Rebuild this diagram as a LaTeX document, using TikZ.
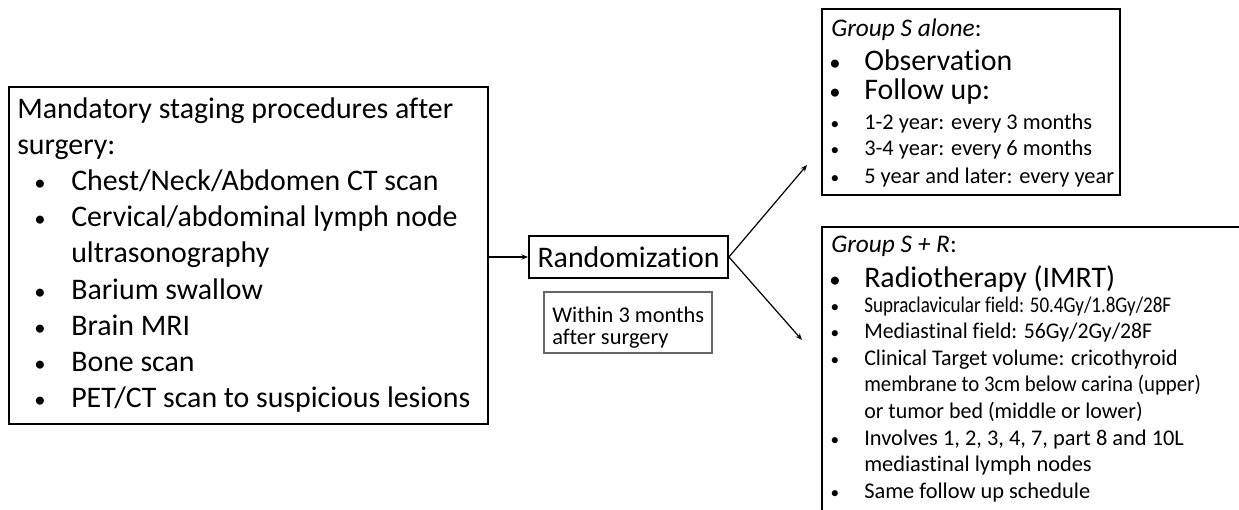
\documentclass[tikz,border=0pt]{standalone}
\usepackage{fontspec}
\setmainfont{Carlito}[Ligatures=NoCommon]
\usetikzlibrary{arrows.meta}
\begin{document}
\begin{tikzpicture}[x=0.75pt,y=-0.75pt,
  frame/.style={draw=black, line width=1.4pt, inner sep=0pt},
  thinframe/.style={draw=black!60, line width=0.8pt, inner sep=0pt},
  big/.style={font=\fontsize{22.4}{26}\selectfont},
  small/.style={font=\fontsize{16.8}{20}\selectfont},
  head/.style={font=\fontsize{19}{22}\selectfont},
  txt/.style={anchor=base west, inner sep=0pt},
  bigdot/.style={anchor=base, inner sep=0pt, font=\fontsize{17}{19}\selectfont},
  smalldot/.style={anchor=base, inner sep=0pt, font=\fontsize{13}{15}\selectfont},
  arrow/.style={line width=0.9pt, -{Stealth[length=5pt,width=4pt]}}
]
\clip (0,0) rectangle (1239,510);
\useasboundingbox (0,0) rectangle (1239,510);

% staging procedures box
\node[frame, minimum width=359.25pt, minimum height=252.75pt] (stage) at (248.5,255.5) {};
\node[txt, big] (st1) at (17,118) {Mandatory staging procedures after};
\node[txt, big] (st2) at (17,154.2) {surgery:};
\foreach \y/\t [count=\i] in {190.4/{Chest/Neck/Abdomen CT scan},
    226.6/{Cervical/abdominal lymph node},
    299/{Barium swallow}, 335.2/{Brain MRI}, 371.4/{Bone scan},
    407.6/{PET/CT scan to suspicious lesions}}{
  \node[bigdot] (sb\i) at (40,\y) {•};
  \node[txt, big] (si\i) at (71,\y) {\t};
}
\node[txt, big] (sc) at (71,262.8) {ultrasonography};

% randomization
\node[frame, big, minimum width=149.25pt, minimum height=31.5pt] (rand) at (628.5,257) {Randomization};
\node[thinframe, minimum width=126pt, minimum height=45.75pt] (when) at (628,322.5) {};
\node[txt, small] (w1) at (552,322) {Within 3 months};
\node[txt, small] (w2) at (552,344) {after surgery};

% group S alone
\node[frame, minimum width=223.5pt, minimum height=139.5pt] (gs) at (971,102) {};
\node[txt, head] (gsh) at (831,37) {\textit{Group S alone}:};
\foreach \y/\t [count=\i] in {70/Observation, 99/Follow up:}{
  \node[bigdot] (ga\i) at (835,\y) {•};
  \node[txt, big] (gt\i) at (864,\y) {\t};
}
\foreach \y/\t [count=\i] in {129/{1-2 year: every 3 months},
    156/{3-4 year: every 6 months}, 183/{5 year and later: every year}}{
  \node[smalldot] (gb\i) at (835,\y) {•};
  \node[txt, small] (gu\i) at (864,\y) {\t};
}

% group S + R
\node[frame, minimum width=328.5pt, minimum height=234.75pt] (gr) at (1041,383.5) {};
\node[txt, head] (grh) at (831,252) {\textit{Group S + R}:};
\node[bigdot] (ra) at (835,287) {•};
\node[txt, big] (rt) at (864,287) {Radiotherapy (IMRT)};
\foreach \y/\sx/\t [count=\i] in {312/0.85/{Supraclavicular field: 50.4Gy/1.8Gy/28F},
    338.6/0.97/{Mediastinal field: 56Gy/2Gy/28F},
    365.2/0.98/{Clinical Target volume: cricothyroid},
    445/1/{Involves 1, 2, 3, 4, 7, part 8 and 10L},
    498.2/1/{Same follow up schedule}}{
  \node[smalldot] (rb\i) at (835,\y) {•};
  \node[txt, small] (ru\i) at (864,\y) {\scalebox{\sx}[1]{\t}};
}
\node[txt, small] (rc1) at (864,391.8) {\scalebox{0.93}[1]{membrane to 3cm below carina (upper)}};
\node[txt, small] (rc2) at (864,418.4) {\scalebox{0.98}[1]{or tumor bed (middle or lower)}};
\node[txt, small] (rc3) at (864,471.6) {mediastinal lymph nodes};

% connectors
\coordinate (toS) at (807,165);
\coordinate (toR) at (802,340);
\draw[arrow] (stage.east |- rand.west) -- (rand.west);
\draw[arrow] (rand.east) -- (toS);
\draw[arrow] (rand.east) -- (toR);
\end{tikzpicture}
\end{document}
